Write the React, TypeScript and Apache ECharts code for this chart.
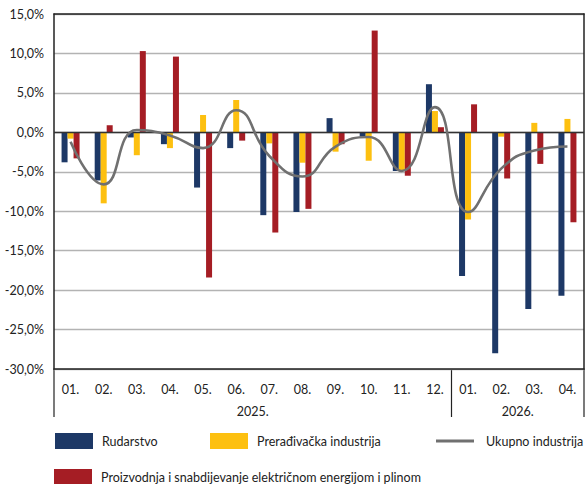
import React, { useEffect, useRef } from 'react';
import * as echarts from 'echarts';

const months = ['01.', '02.', '03.', '04.', '05.', '06.', '07.', '08.', '09.', '10.', '11.', '12.', '01.', '02.', '03.', '04.'];
const years = ['2025.', '2026.'];
const yearSpans = [12, 4];
const yTicks = [-30, -25, -20, -15, -10, -5, 0, 5, 10, 15];

const rudarstvo = [-3.8, -6.1, -0.65, -1.5, -7.0, -2.0, -10.5, -10.1, 1.8, -0.55, -4.9, 6.1, -18.2, -28.0, -22.4, -20.7];
const preradjivacka = [-0.8, -9.0, -2.9, -2.0, 2.2, 4.1, -1.4, -3.85, -2.45, -3.6, -4.8, 2.7, -11.05, -0.55, 1.2, 1.7];
const energija = [-3.3, 0.9, 10.3, 9.6, -18.4, -1.05, -12.7, -9.7, -1.5, 12.9, -5.5, 0.65, 3.55, -5.85, -4.0, -11.4];
const ukupno = [-1.2, -6.6, 0.3, -0.4, -2.0, 2.8, -3.0, -5.6, -1.8, -0.6, -4.9, 3.2, -10.1, -4.6, -2.3, -1.8];

const names = {
  rud: 'Rudarstvo',
  prer: 'Prerađivačka industrija',
  uk: 'Ukupno industrija',
  en: 'Proizvodnja i snabdijevanje električnom energijom i plinom',
};

const FONT = 'Lato, "Open Sans", sans-serif';
const W = 585;
const H = 484;
const GL = 54;
const GR = 584;
const GT = 14;
const GB = 369;

export default function App() {
  const ref = useRef<HTMLDivElement>(null);
  useEffect(() => {
    if (!ref.current) return;
    const chart = echarts.init(ref.current, null, { renderer: 'svg' });
    const bandW = (GR - GL) / months.length;
    const graphics: any[] = [];
    let cum = 0;
    const bounds = [0];
    yearSpans.forEach((s) => {
      cum += s;
      bounds.push(cum);
    });
    bounds.forEach((b) => {
      graphics.push({
        type: 'line',
        shape: { x1: GL + b * bandW, y1: GB, x2: GL + b * bandW, y2: 417 },
        style: { stroke: '#222', lineWidth: 1.2 },
      });
    });
    years.forEach((y, i) => {
      const mid = (bounds[i] + bounds[i + 1]) / 2;
      graphics.push({
        type: 'text',
        x: GL + mid * bandW,
        y: 411,
        style: { text: y, fill: '#222', font: `12.5px ${FONT}`, textAlign: 'center', textVerticalAlign: 'middle' },
      });
    });

    const legendBase = {
      padding: 0,
      selectedMode: false,
      itemWidth: 38,
      itemHeight: 16,
      textStyle: { fontFamily: FONT, fontSize: 12.5, color: '#222', padding: [0, 0, 0, 4] },
    };

    chart.setOption({
      animation: false,
      grid: { left: GL, right: W - GR, top: GT, bottom: H - GB, containLabel: false },
      legend: [
        { ...legendBase, left: 55, top: 433, data: [{ name: names.rud, icon: 'rect' }] },
        { ...legendBase, left: 210, top: 433, data: [{ name: names.prer, icon: 'rect' }] },
        {
          ...legendBase,
          left: 436,
          top: 434.5,
          itemWidth: 38,
          itemHeight: 3,
          data: [{ name: names.uk, icon: 'rect' }],
          itemStyle: { color: '#707070' },
          textStyle: { ...legendBase.textStyle, padding: [0, 0, 0, 7] },
        },
        { ...legendBase, left: 54, top: 469, data: [{ name: names.en, icon: 'rect' }] },
      ],
      xAxis: [
        {
          type: 'category',
          data: months,
          position: 'bottom',
          axisLine: { onZero: false, lineStyle: { color: '#222', width: 1.5 } },
          axisTick: { show: false },
          axisLabel: { color: '#222', fontFamily: FONT, fontSize: 12.5, margin: 14, interval: 0 },
          splitLine: { show: false },
        },
        {
          type: 'category',
          data: months,
          position: 'top',
          axisLine: { onZero: false, lineStyle: { color: '#222', width: 1.5 } },
          axisTick: { show: false },
          axisLabel: { show: false },
        },
      ],
      yAxis: [
        {
          type: 'value',
          min: -30,
          max: 15,
          interval: 5,
          axisLine: { show: true, onZero: false, lineStyle: { color: '#222', width: 1.5 } },
          axisTick: { show: false },
          axisLabel: {
            color: '#222',
            fontFamily: FONT,
            fontSize: 12.5,
            margin: 10,
            formatter: (v: number) => (yTicks.includes(v) ? v.toFixed(1).replace('.', ',') + '%' : ''),
          },
          splitLine: { lineStyle: { color: '#b3b3b3', width: 1.3 } },
        },
        {
          type: 'value',
          min: -30,
          max: 15,
          interval: 5,
          position: 'right',
          axisLine: { show: true, onZero: false, lineStyle: { color: '#222', width: 1.5 } },
          axisTick: { show: false },
          axisLabel: { show: false },
          splitLine: { show: false },
        },
      ],
      series: [
        { name: names.rud, type: 'bar', data: rudarstvo, barWidth: 6, barGap: '0%', itemStyle: { color: '#1d3866' } },
        { name: names.prer, type: 'bar', data: preradjivacka, barWidth: 6, barGap: '0%', itemStyle: { color: '#fdc010' } },
        { name: names.en, type: 'bar', data: energija, barWidth: 6, barGap: '0%', itemStyle: { color: '#a51d24' } },
        {
          name: names.uk,
          type: 'line',
          data: ukupno,
          smooth: 0.5,
          symbol: 'none',
          z: 5,
          lineStyle: { color: '#707070', width: 2.6 },
          itemStyle: { color: '#707070' },
          markLine: {
            silent: true,
            symbol: ['none', 'none'],
            label: { show: false },
            lineStyle: { color: '#333', width: 1.3, type: 'solid' },
            data: [{ yAxis: 0 }],
          },
        },
      ],
      graphic: graphics,
    });
    return () => chart.dispose();
  }, []);
  return <div ref={ref} style={{ width: W, height: H, position: 'absolute', left: 0, top: 0 }} />;
}
